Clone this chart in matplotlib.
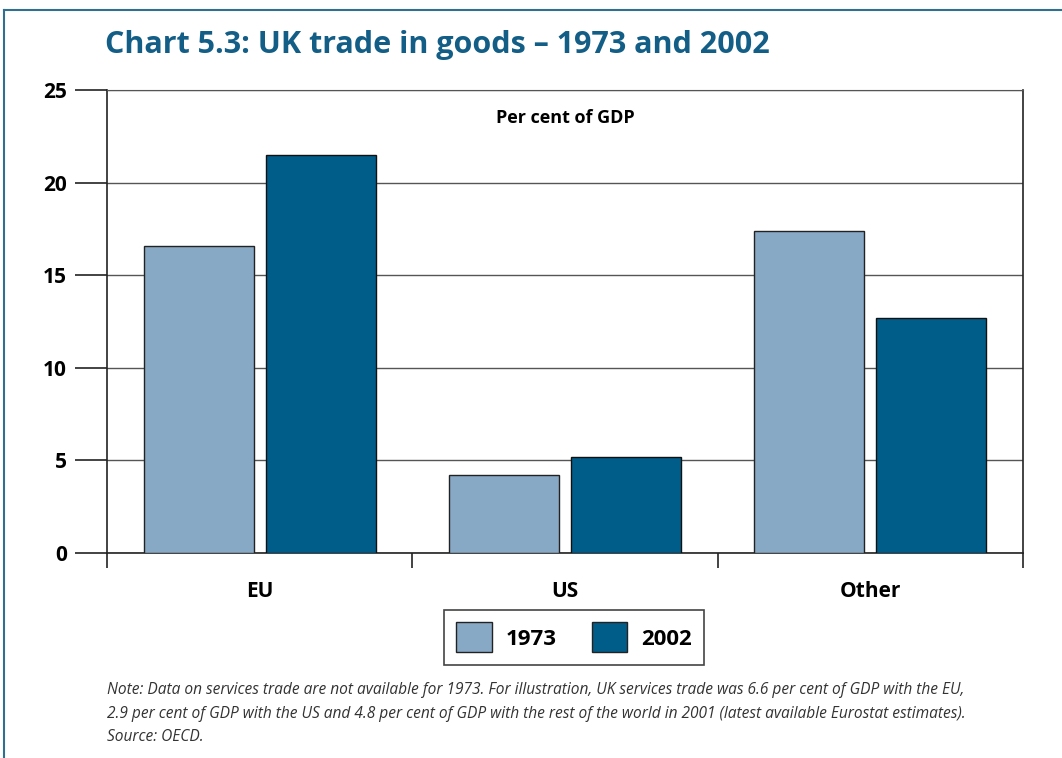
import numpy as np
import matplotlib.pyplot as plt
from matplotlib.lines import Line2D
from matplotlib.patches import Patch

regions = ["EU", "US", "Other"]
share_1973 = [16.6, 4.2, 17.4]
share_2002 = [21.5, 5.2, 12.7]
year_labels = ["1973", "2002"]
y_ticks = [0, 5, 10, 15, 20, 25]
note_lines = [
    "Note: Data on services trade are not available for 1973. For illustration, UK services trade was 6.6 per cent of GDP with the EU,",
    "2.9 per cent of GDP with the US and 4.8 per cent of GDP with the rest of the world in 2001 (latest available Eurostat estimates).",
    "Source: OECD.",
]

light_blue = "#87a9c5"
dark_blue = "#005d8a"
title_blue = "#135e86"

plt.rcParams['font.family'] = ['Open Sans', 'DejaVu Sans']

fig = plt.figure(figsize=(10.62, 7.58), dpi=100)
ax = fig.add_axes([0.1008, 0.2704, 0.8625, 0.6109])

x = np.arange(len(regions))
w = 0.36
ax.bar(x - 0.2, share_1973, w, color=light_blue, edgecolor="#222222", linewidth=1.0, zorder=3)
ax.bar(x + 0.2, share_2002, w, color=dark_blue, edgecolor="#111111", linewidth=1.0, zorder=3)

ax.set_xlim(-0.5, 2.5)
ax.set_ylim(0, 25)
ax.set_yticks(y_ticks)
ax.set_yticklabels([str(v) for v in y_ticks], fontsize=15, fontweight="bold")
ax.tick_params(axis="y", length=23, width=1.2, pad=6, color="#222222")
ax.yaxis.grid(True, color="#555555", linewidth=1.0, zorder=0)

ax.set_xticks(x)
ax.set_xticklabels(regions, fontsize=15, fontweight="bold")
ax.set_xticks([-0.5, 0.5, 1.5, 2.5], minor=True)
ax.tick_params(axis="x", which="major", length=0, pad=20)
ax.tick_params(axis="x", which="minor", length=11, width=1.2, color="#222222")

for side in ["left", "right", "bottom"]:
    ax.spines[side].set_color("#222222")
    ax.spines[side].set_linewidth(1.2)
ax.spines["top"].set_color("#555555")

ax.text(0.5, 0.94, "Per cent of GDP", transform=ax.transAxes, ha="center", va="center",
        fontsize=13, fontweight="bold")

fig.text(0.099, 0.94, "Chart 5.3: UK trade in goods \u2013 1973 and 2002", fontsize=22,
         fontweight="bold", color=title_blue, ha="left", va="center")

handles = [Patch(facecolor=light_blue, edgecolor="#222222"), Patch(facecolor=dark_blue, edgecolor="#222222")]
leg = fig.legend(handles, year_labels, loc="center", bbox_to_anchor=(0.5405, 0.159), ncol=2,
                 fancybox=False, edgecolor="#444444", framealpha=1, handlelength=1.6, handleheight=1.7,
                 handletextpad=0.6, columnspacing=1.6, borderpad=0.55,
                 prop={"size": 16, "weight": "bold"})
leg.get_frame().set_linewidth(1.2)

for i, line in enumerate(note_lines):
    fig.text(0.1008, 1 - (690 + 23.5 * i) / 758, line, fontsize=11.2, style="italic",
             color="#333333", ha="left", va="center")

# outer frame
fig.add_artist(Line2D([0.004, 1.0], [0.987, 0.987], transform=fig.transFigure, color="#2f6f90", linewidth=1.5))
fig.add_artist(Line2D([0.004, 0.004], [0.0, 0.987], transform=fig.transFigure, color="#2f6f90", linewidth=1.5))

fig.savefig("out.png", dpi=100)
